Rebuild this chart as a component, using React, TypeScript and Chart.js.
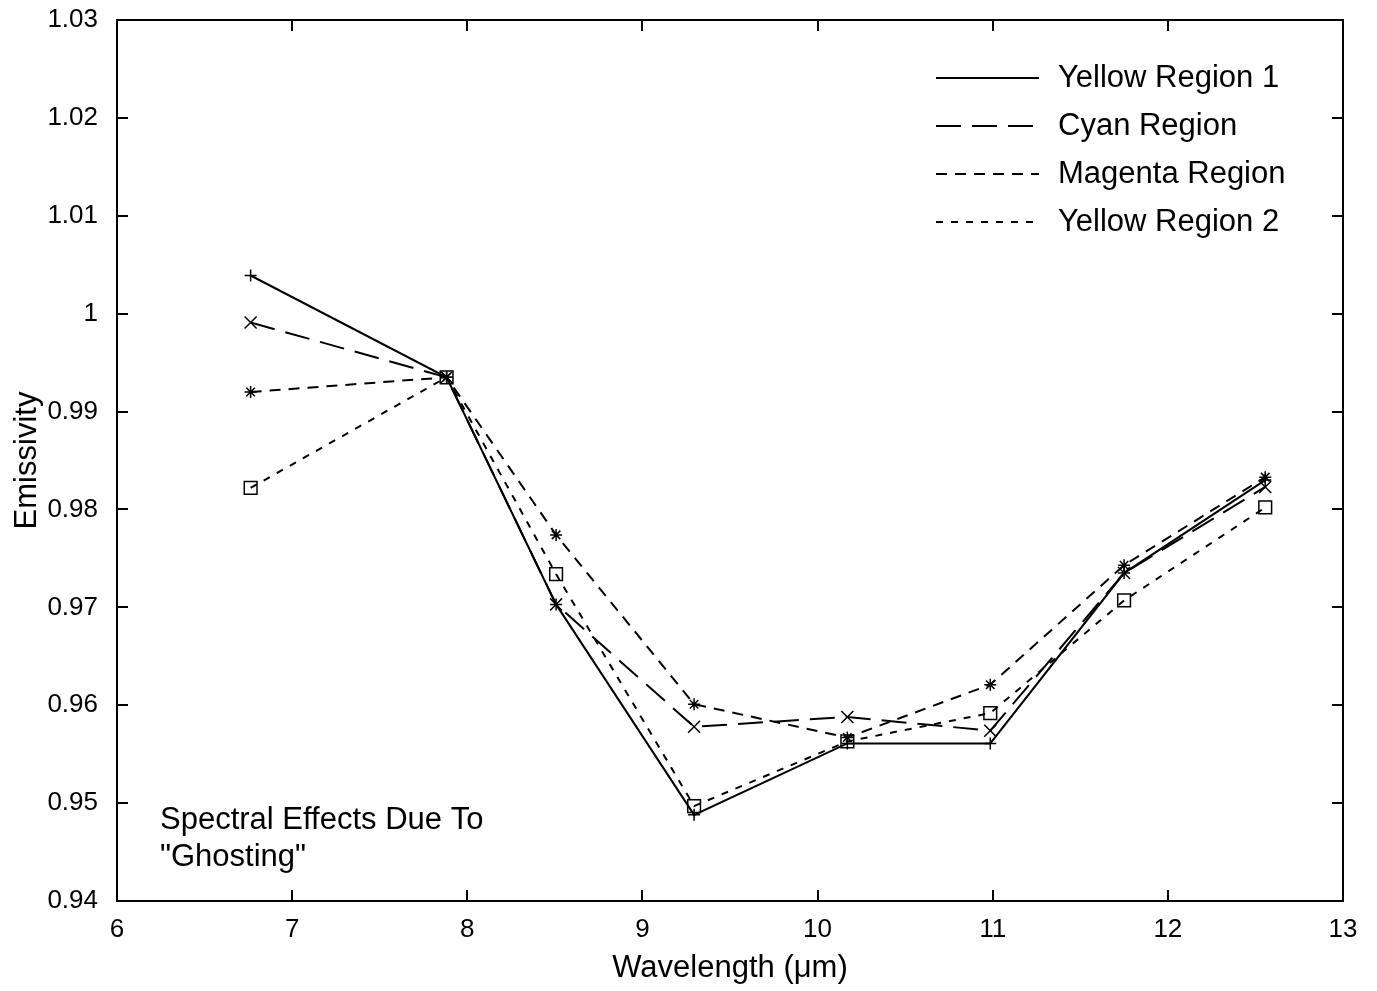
import React, { useEffect, useRef } from 'react';
import { Chart, registerables } from 'chart.js';

Chart.register(...registerables);

const wavelengths = [6.763, 7.882, 8.507, 9.295, 10.17, 10.986, 11.75, 12.556];
const yellowRegion1 = [1.0039, 0.9935, 0.9703, 0.9488, 0.9561, 0.9561, 0.9735, 0.983];
const cyanRegion = [0.9991, 0.9935, 0.9703, 0.9578, 0.9588, 0.9574, 0.9735, 0.9823];
const magentaRegion = [0.992, 0.9935, 0.9774, 0.9601, 0.9567, 0.9621, 0.9743, 0.9833];
const yellowRegion2 = [0.9822, 0.9935, 0.9734, 0.9497, 0.9563, 0.9592, 0.9707, 0.9802];
const seriesNames = ['Yellow Region 1', 'Cyan Region', 'Magenta Region', 'Yellow Region 2'];
const xRange = [6, 13];
const yRange = [0.94, 1.03];
const annotationLines = ['Spectral Effects Due To', '"Ghosting"'];

const FONT = 'Helvetica, "Liberation Sans", Arial, sans-serif';
const dashes: number[][] = [[], [25, 11], [11, 8], [7, 8]];
const pointStyles = ['cross', 'crossRot', 'star', 'rect'];
const pointRadii = [6, 8.5, 6, 9];

const framePlugin = {
  id: 'frameTicks',
  afterDatasetsDraw(chart: any) {
    const { ctx, chartArea } = chart;
    const { left, right, top, bottom } = chartArea;
    const xs = chart.scales.x;
    const ys = chart.scales.y;
    const tl = 11;
    ctx.save();
    ctx.strokeStyle = '#000';
    ctx.lineWidth = 2;
    ctx.setLineDash([]);
    ctx.beginPath();
    xs.ticks.forEach((t: any) => {
      const px = Math.round(xs.getPixelForValue(t.value));
      ctx.moveTo(px, bottom);
      ctx.lineTo(px, bottom - tl);
      ctx.moveTo(px, top);
      ctx.lineTo(px, top + tl);
    });
    ys.ticks.forEach((t: any) => {
      const py = Math.round(ys.getPixelForValue(t.value));
      ctx.moveTo(left, py);
      ctx.lineTo(left + tl, py);
      ctx.moveTo(right, py);
      ctx.lineTo(right - tl, py);
    });
    ctx.stroke();
    ctx.strokeRect(left, top, right - left, bottom - top);

    // legend
    ctx.font = `31px ${FONT}`;
    ctx.fillStyle = '#000';
    ctx.textBaseline = 'middle';
    ctx.textAlign = 'left';
    seriesNames.forEach((name, i) => {
      const y = top + 58 + i * 48;
      ctx.beginPath();
      ctx.setLineDash(dashes[i]);
      ctx.moveTo(right - 407, y);
      ctx.lineTo(right - 304, y);
      ctx.stroke();
      ctx.setLineDash([]);
      ctx.fillText(name, right - 285, y);
    });

    // annotation
    annotationLines.forEach((line, i) => {
      ctx.fillText(line, left + 43, bottom - 81 + i * 37);
    });
    ctx.restore();
  },
};

const fmt = (v: number) => String(Number(v.toFixed(2)));

export default function App() {
  const ref = useRef<HTMLCanvasElement>(null);
  useEffect(() => {
    document.body.style.margin = '0';
    const series = [yellowRegion1, cyanRegion, magentaRegion, yellowRegion2];
    const chart = new Chart(ref.current!, {
      type: 'line',
      data: {
        datasets: series.map((vals, i) => ({
          label: seriesNames[i],
          data: vals.map((v, j) => ({ x: wavelengths[j], y: v })),
          borderColor: '#000',
          backgroundColor: 'rgba(0,0,0,0)',
          borderWidth: 2,
          borderDash: dashes[i],
          pointStyle: pointStyles[i],
          pointRadius: pointRadii[i],
          pointBorderColor: '#000',
          pointBackgroundColor: 'rgba(0,0,0,0)',
          pointBorderWidth: 1.5,
          tension: 0,
          fill: false,
        })),
      },
      options: {
        animation: false,
        responsive: false,
        events: [],
        layout: { padding: { left: 0, right: 34, top: 20, bottom: 0 } },
        plugins: { legend: { display: false }, tooltip: { enabled: false } },
        scales: {
          x: {
            type: 'linear',
            min: xRange[0],
            max: xRange[1],
            grid: { display: false, drawTicks: false },
            border: { display: false },
            ticks: { stepSize: 1, padding: 13, color: '#000', font: { family: FONT, size: 26 }, maxRotation: 0 },
            title: { display: true, text: 'Wavelength (μm)', color: '#000', font: { family: FONT, size: 31 }, padding: { top: 0, bottom: 4 } },
            afterFit: (s: any) => { s.height = 90; s.paddingLeft = 0; s.paddingRight = 0; },
          },
          y: {
            type: 'linear',
            min: yRange[0],
            max: yRange[1],
            grid: { display: false, drawTicks: false },
            border: { display: false },
            ticks: { stepSize: 0.01, padding: 19, color: '#000', font: { family: FONT, size: 26 }, callback: (v: any) => fmt(Number(v)) },
            title: { display: true, text: 'Emissivity', color: '#000', font: { family: FONT, size: 31 }, padding: { top: 9, bottom: 0 } },
            afterFit: (s: any) => { s.width = 117; s.paddingTop = 0; s.paddingBottom = 0; },
          },
        },
      },
      plugins: [framePlugin],
    } as any);
    return () => chart.destroy();
  }, []);
  return (
    <div style={{ position: 'fixed', left: 0, top: 0, width: 1377, height: 991, background: '#fff' }}>
      <canvas ref={ref} width={1377} height={991} />
    </div>
  );
}
